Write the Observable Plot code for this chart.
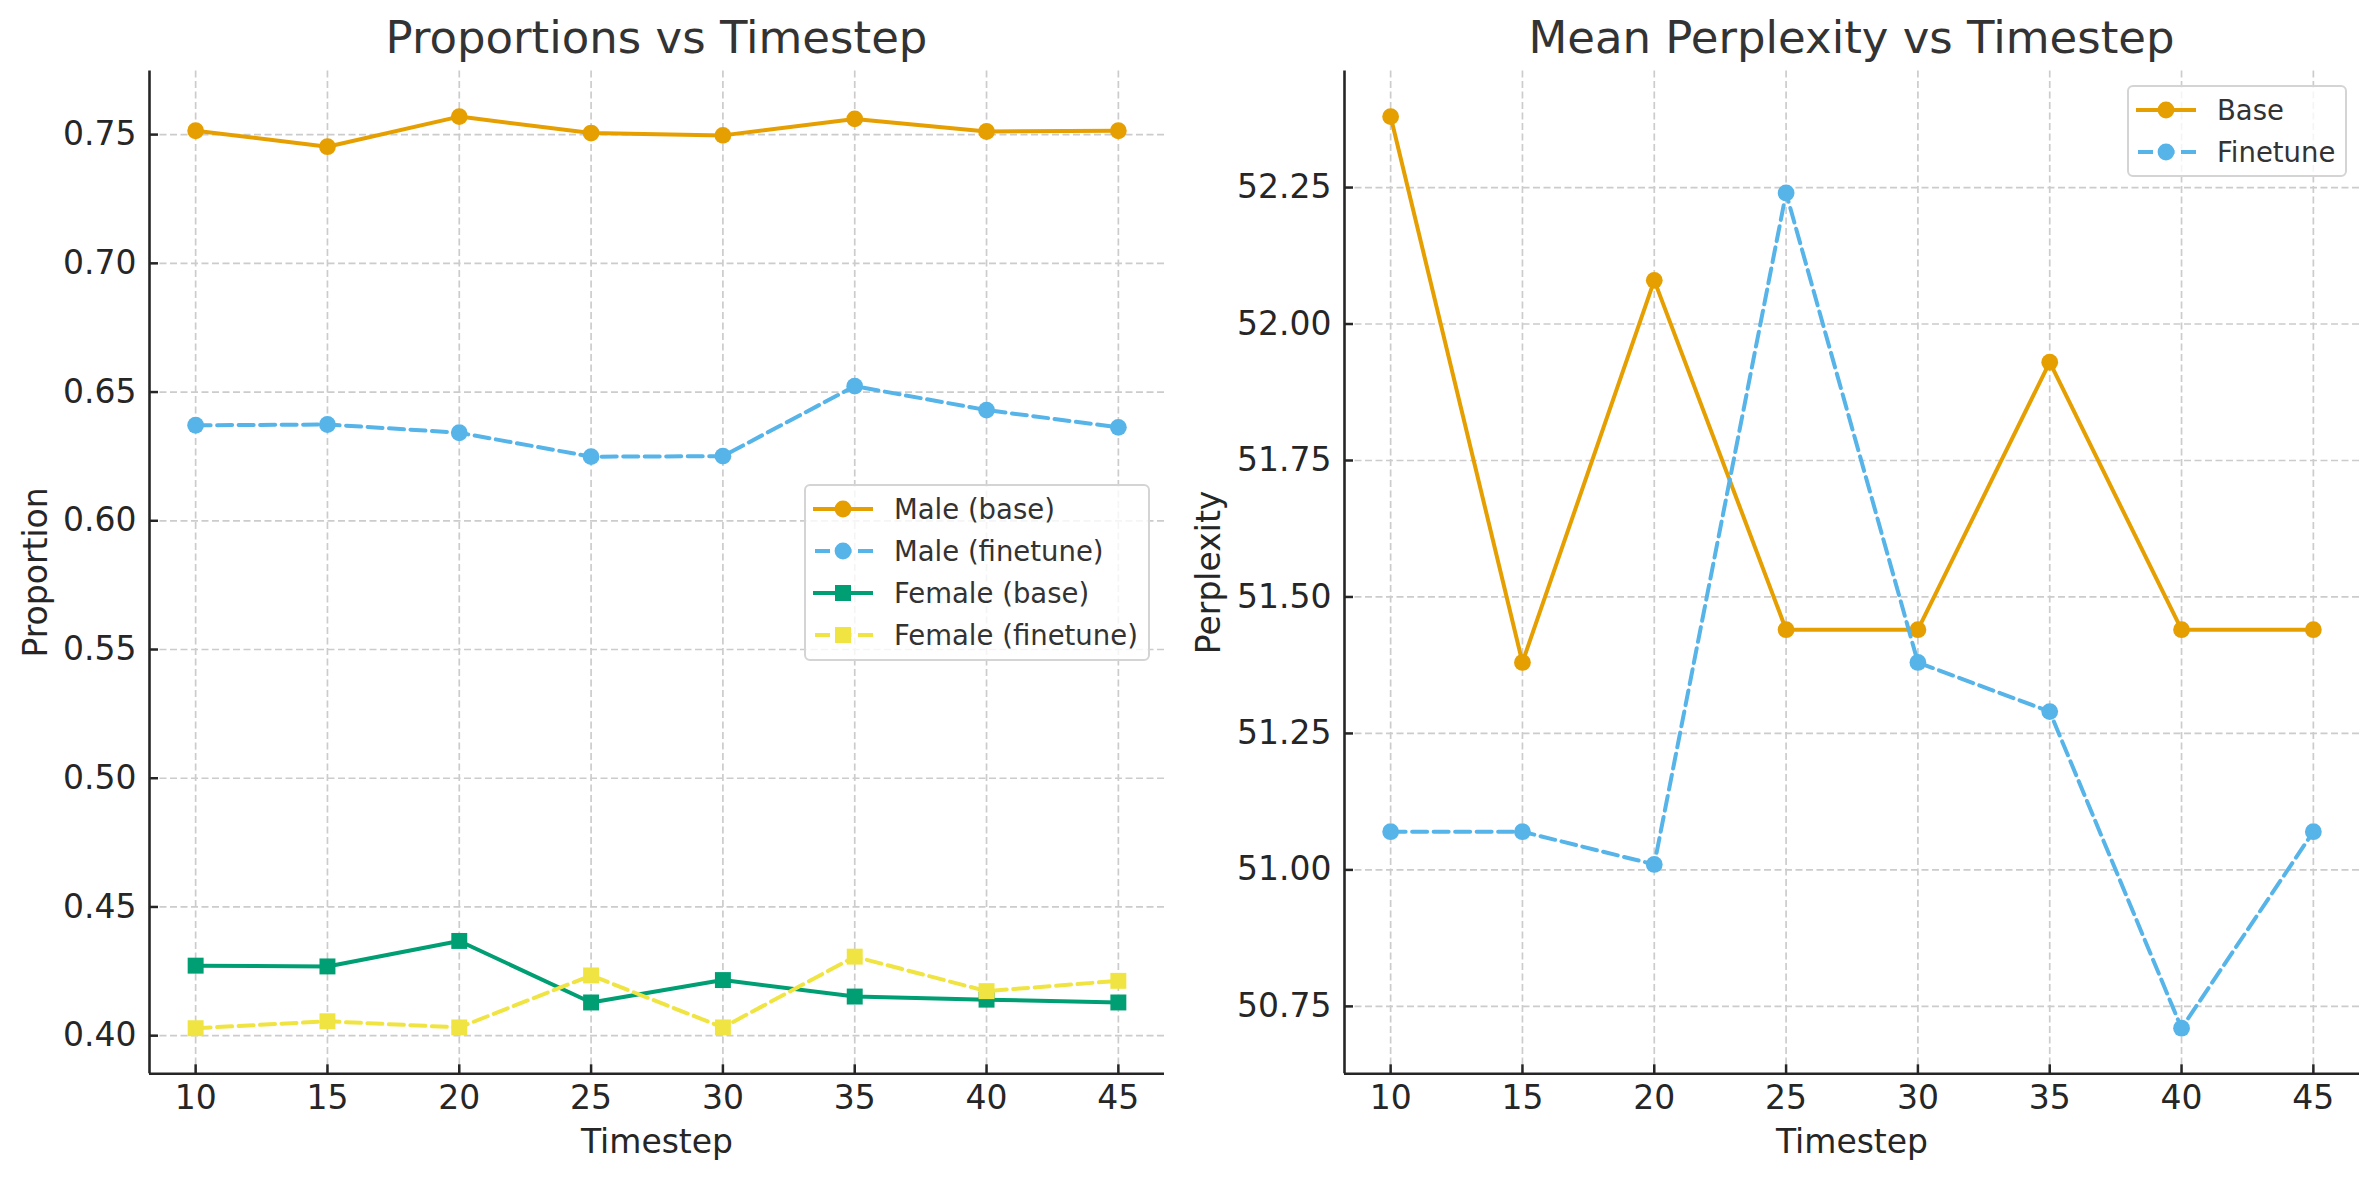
<!DOCTYPE html>
<html>
<head>
<meta charset="utf-8">
<script src="https://cdn.jsdelivr.net/npm/d3@7"></script>
<script src="https://cdn.jsdelivr.net/npm/@observablehq/plot@0.6"></script>
<style>
  body { margin: 0; background: #fff; font-family: "DejaVu Sans", sans-serif; }
  #root { position: relative; width: 2379px; height: 1180px; overflow: hidden; background: #fff; }
  .title { position: absolute; top: 14px; font-size: 45px; line-height: 48px; color: #333; text-align: center; white-space: nowrap; }
  .panel { position: absolute; top: 66px; }
  .legend { position: absolute; background: rgba(255,255,255,0.8); border: 2px solid #d4d4d4; border-radius: 6px; box-sizing: border-box; }
  .legend .row { position: absolute; height: 42px; display: flex; align-items: center; font-size: 27.5px; color: #333; white-space: nowrap; }
  .legend .row svg { margin-right: 21px; }
</style>
</head>
<body>
<div id="root"></div>
<script>
// ---------- data ----------
const timesteps = [10, 15, 20, 25, 30, 35, 40, 45];
const maleBase = [0.7515, 0.7453, 0.7570, 0.7506, 0.7497, 0.7561, 0.7512, 0.7515];
const maleFinetune = [0.6371, 0.6374, 0.6342, 0.6249, 0.6251, 0.6523, 0.6430, 0.6363];
const femaleBase = [0.4272, 0.4269, 0.4368, 0.4129, 0.4216, 0.4152, 0.4140, 0.4129];
const femaleFinetune = [0.4029, 0.4056, 0.4032, 0.4234, 0.4032, 0.4307, 0.4173, 0.4213];
const perplexityBase = [52.38, 51.38, 52.08, 51.44, 51.44, 51.93, 51.44, 51.44];
const perplexityFinetune = [51.07, 51.07, 51.01, 52.24, 51.38, 51.29, 50.71, 51.07];
const proportionTicks = [0.40, 0.45, 0.50, 0.55, 0.60, 0.65, 0.70, 0.75];
const perplexityTicks = [50.75, 51.00, 51.25, 51.50, 51.75, 52.00, 52.25];

const ORANGE = "#E69F00", BLUE = "#56B4E9", GREEN = "#009E73", YELLOW = "#F0E442";
const DASH = "15,6.5";

const propSeries = [
  {name: "Male (base)", values: maleBase, color: ORANGE, dash: null, symbol: "circle"},
  {name: "Male (finetune)", values: maleFinetune, color: BLUE, dash: DASH, symbol: "circle"},
  {name: "Female (base)", values: femaleBase, color: GREEN, dash: null, symbol: "square"},
  {name: "Female (finetune)", values: femaleFinetune, color: YELLOW, dash: DASH, symbol: "square"}
];
const perpSeries = [
  {name: "Base", values: perplexityBase, color: ORANGE, dash: null, symbol: "circle"},
  {name: "Finetune", values: perplexityFinetune, color: BLUE, dash: DASH, symbol: "circle"}
];

function padDomain(arrs, frac) {
  const all = arrs.flat();
  const lo = d3.min(all), hi = d3.max(all), p = (hi - lo) * frac;
  return [lo - p, hi + p];
}

function makePanel(cfg) {
  const xPad = (d3.max(timesteps) - d3.min(timesteps)) * 0.05;
  const xDomain = [d3.min(timesteps) - xPad, d3.max(timesteps) + xPad];
  const yDomain = padDomain(cfg.series.map(s => s.values), 0.05);
  const gridStyle = {stroke: "#cccccc", strokeOpacity: 1, strokeWidth: 1.7, strokeDasharray: "7,3.5"};
  const marks = [
    Plot.gridX(timesteps, gridStyle),
    Plot.gridY(cfg.yTicks, gridStyle),
    Plot.axisX(timesteps, {tickSize: -9, tickPadding: 21, strokeWidth: 2.5, stroke: "#262626", fill: "#262626", fontSize: 33, tickFormat: d => String(d), label: null}),
    Plot.axisY(cfg.yTicks, {tickSize: -9, tickPadding: 22, strokeWidth: 2.5, stroke: "#262626", fill: "#262626", fontSize: 33, tickFormat: d3.format(".2f"), label: null}),
    Plot.ruleX([xDomain[0]], {stroke: "#262626", strokeWidth: 2.6}),
    Plot.ruleY([yDomain[0]], {stroke: "#262626", strokeWidth: 2.6}),
    Plot.text(["Timestep"], {frameAnchor: "bottom", dy: 69, textAnchor: "middle", lineAnchor: "middle", fontSize: 33, fill: "#262626"}),
    Plot.text([cfg.yLabel], {frameAnchor: "left", dx: cfg.yLabelDx, rotate: -90, textAnchor: "middle", lineAnchor: "middle", fontSize: 33, fill: "#262626"})
  ];
  for (const s of cfg.series) {
    const rows = timesteps.map((t, i) => ({t, v: s.values[i]}));
    marks.push(Plot.line(rows, {x: "t", y: "v", stroke: s.color, strokeWidth: 4, strokeDasharray: s.dash || undefined, strokeLinejoin: "round"}));
    marks.push(Plot.dot(rows, {x: "t", y: "v", fill: s.color, stroke: "none", symbol: s.symbol, r: s.symbol === "square" ? 9 : 8.4}));
  }
  const svg = Plot.plot({
    width: cfg.width, height: 1114,
    marginLeft: cfg.ml, marginRight: cfg.mr, marginTop: 4.5, marginBottom: 106.7,
    x: {domain: xDomain, axis: null},
    y: {domain: yDomain, axis: null},
    style: {fontFamily: "DejaVu Sans", fontSize: "33px", color: "#262626", background: "#fff", overflow: "visible"},
    marks
  });
  const wrap = document.createElement("div");
  wrap.className = "panel";
  wrap.style.left = cfg.left + "px";
  wrap.appendChild(svg);
  return wrap;
}

function makeTitle(text, center) {
  const d = document.createElement("div");
  d.className = "title";
  d.style.left = (center - 600) + "px";
  d.style.width = "1200px";
  d.textContent = text;
  return d;
}

function handleSvg(s) {
  const ns = "http://www.w3.org/2000/svg";
  const svg = document.createElementNS(ns, "svg");
  svg.setAttribute("width", 60); svg.setAttribute("height", 24);
  const line = document.createElementNS(ns, "line");
  line.setAttribute("x1", 0); line.setAttribute("x2", 60);
  line.setAttribute("y1", 12); line.setAttribute("y2", 12);
  line.setAttribute("stroke", s.color); line.setAttribute("stroke-width", 4);
  if (s.dash) { line.setAttribute("stroke-dasharray", s.dash); line.setAttribute("stroke-dashoffset", -2); }
  svg.appendChild(line);
  if (s.symbol === "circle") {
    const c = document.createElementNS(ns, "circle");
    c.setAttribute("cx", 30); c.setAttribute("cy", 12); c.setAttribute("r", 8.4);
    c.setAttribute("fill", s.color);
    svg.appendChild(c);
  } else {
    const r = document.createElementNS(ns, "rect");
    r.setAttribute("x", 22); r.setAttribute("y", 4); r.setAttribute("width", 16); r.setAttribute("height", 16);
    r.setAttribute("fill", s.color);
    svg.appendChild(r);
  }
  return svg;
}

function makeLegend(series, box) {
  const d = document.createElement("div");
  d.className = "legend";
  Object.assign(d.style, {left: box.left + "px", top: box.top + "px", width: box.width + "px", height: box.height + "px"});
  series.forEach((s, i) => {
    const row = document.createElement("div");
    row.className = "row";
    row.style.left = "7px";
    row.style.top = (2 + i * 42) + "px";
    row.appendChild(handleSvg(s));
    const span = document.createElement("span");
    span.textContent = s.name;
    row.appendChild(span);
    d.appendChild(row);
  });
  return d;
}

const root = document.getElementById("root");
root.appendChild(makeTitle("Proportions vs Timestep", 656.5));
root.appendChild(makeTitle("Mean Perplexity vs Timestep", 1851.5));
root.appendChild(makePanel({left: 0, width: 1185, ml: 149, mr: 21, series: propSeries, yTicks: proportionTicks, yLabel: "Proportion", yLabelDx: -113}));
root.appendChild(makePanel({left: 1190, width: 1189, ml: 154, mr: 20, series: perpSeries, yTicks: perplexityTicks, yLabel: "Perplexity", yLabelDx: -135}));
root.appendChild(makeLegend(propSeries, {left: 804, top: 484, width: 346, height: 177}));
root.appendChild(makeLegend(perpSeries, {left: 2127, top: 85, width: 220, height: 92}));
</script>
</body>
</html>
